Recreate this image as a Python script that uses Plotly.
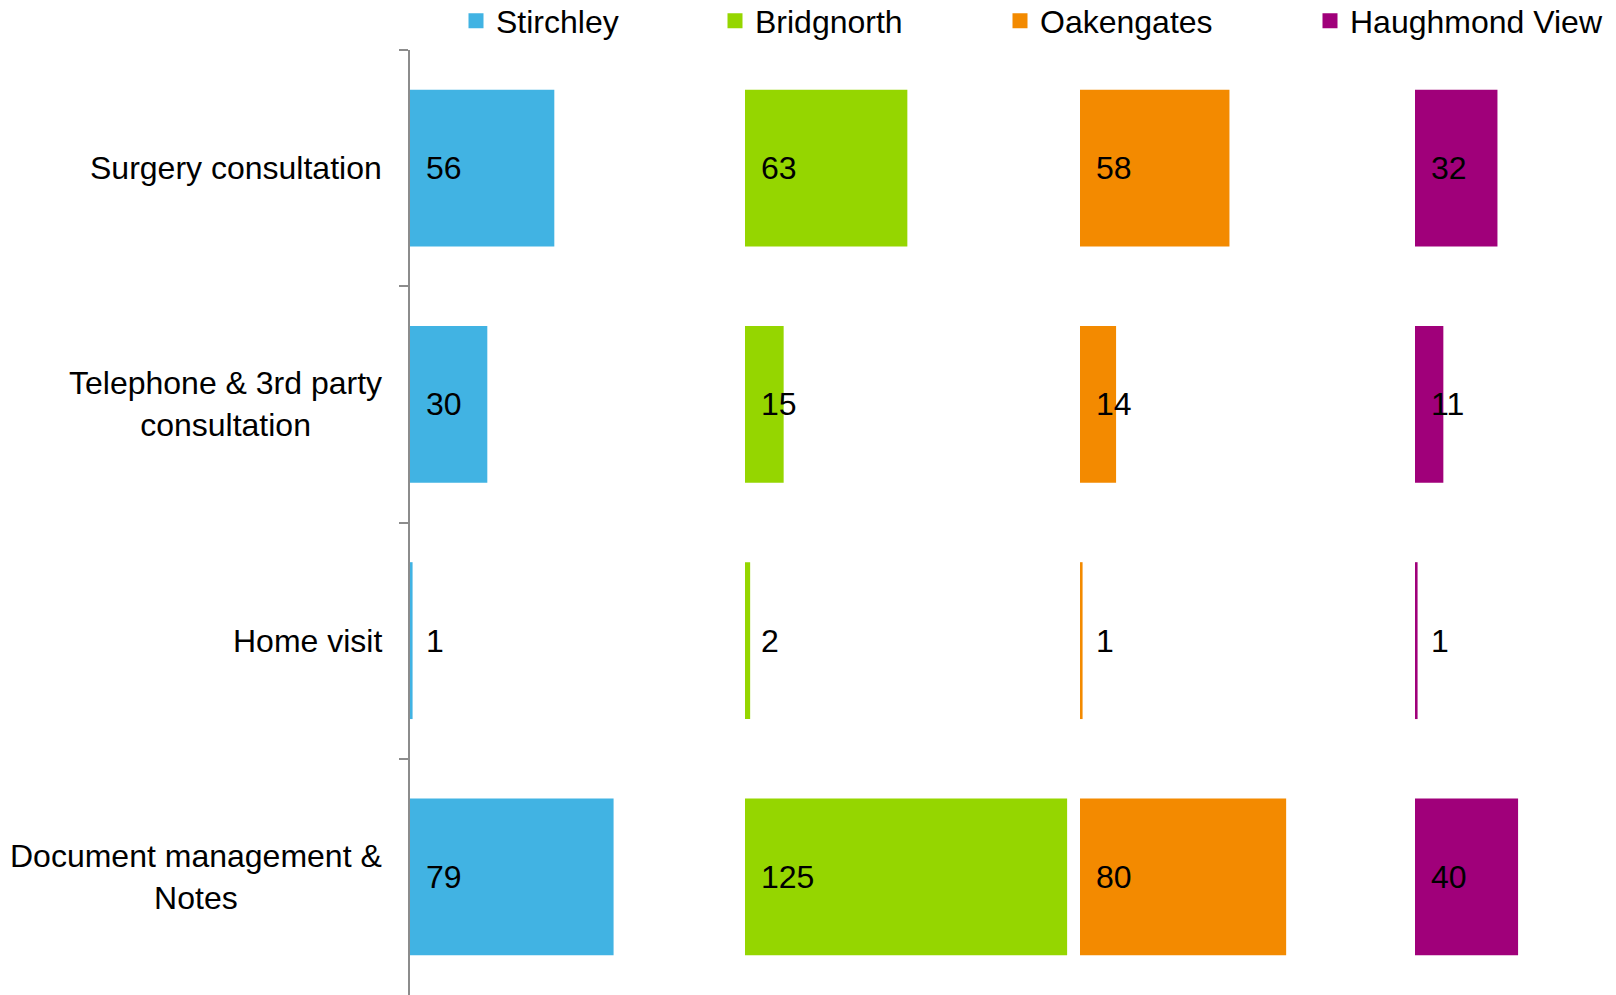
import plotly.graph_objects as go

# ---- data ----
categories = ["Surgery consultation", "Telephone & 3rd party consultation",
              "Home visit", "Document management & Notes"]
category_labels = ["Surgery consultation", "Telephone & 3rd party<br>consultation",
                   "Home visit", "Document management &<br>Notes"]
series_names = ["Stirchley", "Bridgnorth", "Oakengates", "Haughmond View"]
stirchley = [56, 30, 1, 79]
bridgnorth = [63, 15, 2, 125]
oakengates = [58, 14, 1, 80]
haughmond = [32, 11, 1, 40]
series_values = [stirchley, bridgnorth, oakengates, haughmond]

# ---- style ----
colors = ["#41B3E3", "#95D600", "#F38A00", "#A0007A"]
FONT = "Liberation Sans, Arial, sans-serif"
FS = 32
W, H = 1616, 995
L, T = 410, 50
column_step = 130            # spacing between the series' columns (axis units)
x_max = 468
legend_text_px = [496, 755, 1040, 1350]

fig = go.Figure()
annotations = []
for i, (name, vals, col) in enumerate(zip(series_names, series_values, colors)):
    base = column_step * i
    leg = "legend" if i == 0 else f"legend{i+1}"
    fig.add_trace(go.Bar(
        y=categories, x=vals, base=[base] * len(vals), orientation="h",
        name=name, marker=dict(color=col, line=dict(width=0)),
        showlegend=False, hoverinfo="skip",
    ))
    # legend entry with a larger square swatch
    fig.add_trace(go.Scatter(
        x=[None], y=[None], mode="markers", name=name,
        marker=dict(symbol="square", size=15, color=col, line=dict(width=0)),
        legend=leg, showlegend=True,
    ))
    for c, v in zip(categories, vals):
        annotations.append(dict(
            x=base, y=c, xref="x", yref="y", text=str(v), showarrow=False,
            xanchor="left", yanchor="middle", xshift=14,
            font=dict(family=FONT, size=FS, color="#000000"),
        ))

for c, lab in zip(categories, category_labels):
    annotations.append(dict(
        x=0, y=c, xref="paper", yref="y", text=lab, showarrow=False,
        xanchor="right", yanchor="middle", align="center", xshift=-26,
        font=dict(family=FONT, size=FS, color="#000000"),
    ))

legends = {}
for i, px in enumerate(legend_text_px):
    key = "legend" if i == 0 else f"legend{i+1}"
    legends[key] = dict(
        x=(px - 40) / W, xref="container", xanchor="left",
        y=1 - 21 / H, yref="container", yanchor="middle",
        orientation="h", bgcolor="rgba(0,0,0,0)", borderwidth=0,
        font=dict(family=FONT, size=FS, color="#000000"),
    )

fig.update_layout(
    width=W, height=H, template="none",
    paper_bgcolor="white", plot_bgcolor="white",
    margin=dict(l=L, r=0, t=T, b=0, pad=0),
    barmode="overlay", bargap=0.336,
    showlegend=True,
    annotations=annotations,
    font=dict(family=FONT, size=FS, color="#000000"),
    **legends,
)
fig.update_xaxes(visible=False, range=[0, x_max], fixedrange=True)
fig.update_yaxes(
    type="category", categoryorder="array", categoryarray=categories,
    autorange="reversed", showticklabels=False, showgrid=False, zeroline=False,
    showline=True, linecolor="#8C8C8C", linewidth=1.5, fixedrange=True,
    ticks="outside", tickson="boundaries", ticklen=9, tickcolor="#8C8C8C", tickwidth=1.5,
)

fig.write_html("out.html",
               config={"displayModeBar": False},
               post_script="document.body.style.margin='0';document.body.style.overflow='hidden';")
